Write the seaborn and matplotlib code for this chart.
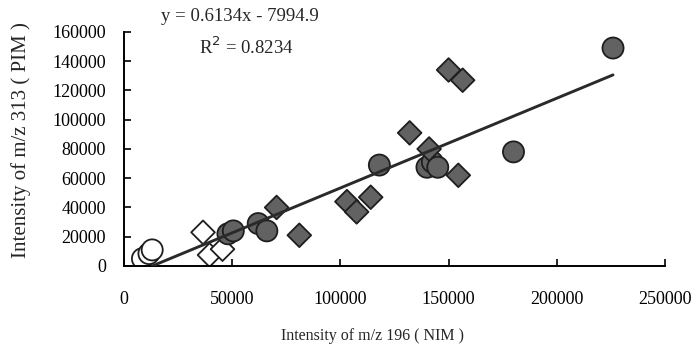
import numpy as np
import pandas as pd
import matplotlib.pyplot as plt
import seaborn as sns

# Values
open_circle_x = [8500, 11500, 13000]
open_circle_y = [5000, 8500, 11000]

open_diamond_x = [36500, 39500, 45500]
open_diamond_y = [23000, 7500, 11500]

filled_circle_x = [48000, 50500, 62000, 66000, 118000, 140000, 142500, 145000, 180000, 226000]
filled_circle_y = [22000, 24000, 29000, 24000, 69000, 67500, 71000, 67500, 78000, 149000]

filled_diamond_x = [70500, 81000, 103000, 107500, 114000, 132000, 141000, 154500, 150000, 156500]
filled_diamond_y = [40000, 21000, 44000, 37000, 47000, 91000, 80000, 62000, 134000, 127000]

slope = 0.6134
intercept = -7994.9
r2 = 0.8234
fit_x = [13000, 226000]

x_ticks = [0, 50000, 100000, 150000, 200000, 250000]
y_ticks = [0, 20000, 40000, 60000, 80000, 100000, 120000, 140000, 160000]

df = pd.concat([
    pd.DataFrame({'x': open_circle_x, 'y': open_circle_y, 'group': 'open_circle'}),
    pd.DataFrame({'x': open_diamond_x, 'y': open_diamond_y, 'group': 'open_diamond'}),
    pd.DataFrame({'x': filled_circle_x, 'y': filled_circle_y, 'group': 'filled_circle'}),
    pd.DataFrame({'x': filled_diamond_x, 'y': filled_diamond_y, 'group': 'filled_diamond'}),
], ignore_index=True)

fit_df = pd.DataFrame({'x': fit_x})
fit_df['y'] = slope * fit_df['x'] + intercept

sns.set_style('ticks')
plt.rcParams['font.family'] = ['Liberation Serif', 'DejaVu Serif']

fig = plt.figure(figsize=(6.97, 3.53), dpi=100)
ax = fig.add_axes([0.178, 0.2465, 0.776, 0.663])

markers = {'open_circle': 'o', 'open_diamond': 'D', 'filled_circle': 'o', 'filled_diamond': 'D'}
palette = {'open_circle': 'white', 'open_diamond': 'white', 'filled_circle': '#626262', 'filled_diamond': '#626262'}
sizes = {'open_circle': 230, 'open_diamond': 145, 'filled_circle': 230, 'filled_diamond': 145}

sns.scatterplot(data=df, x='x', y='y', hue='group', style='group', size='group',
                markers=markers, palette=palette, sizes=sizes,
                edgecolor='#1e1e1e', linewidth=1.3, legend=False, ax=ax, zorder=2)
sns.lineplot(data=fit_df, x='x', y='y', color='#2a2a2a', linewidth=2.1, ax=ax, zorder=3)

ax.set_xlim(0, 250000)
ax.set_ylim(0, 160000)
ax.set_xticks(x_ticks)
ax.set_yticks(y_ticks)
ax.tick_params(direction='in', length=5, width=1.2, labelsize=13, colors='black')
ax.tick_params(axis='y', pad=13)
ax.tick_params(axis='x', pad=18)
for side in ['top', 'right']:
    ax.spines[side].set_visible(False)
for side in ['left', 'bottom']:
    ax.spines[side].set_linewidth(1.4)
    ax.spines[side].set_color('black')

ax.set_xlabel('Intensity of m/z 196 ( NIM )', fontsize=11.5)
ax.set_ylabel('Intensity of m/z 313 ( PIM )', fontsize=15)
ax.xaxis.set_label_coords(0.46, -0.265)
ax.yaxis.set_label_coords(-0.172, 0.54)

fig.text(0.344, 0.952, f'y = {slope}x - {-intercept}', fontsize=13.5, ha='center', va='center')
fig.text(0.353, 0.867, f'R$^2$ = {r2}', fontsize=13.5, ha='center', va='center')

fig.savefig('out.png', dpi=100)
